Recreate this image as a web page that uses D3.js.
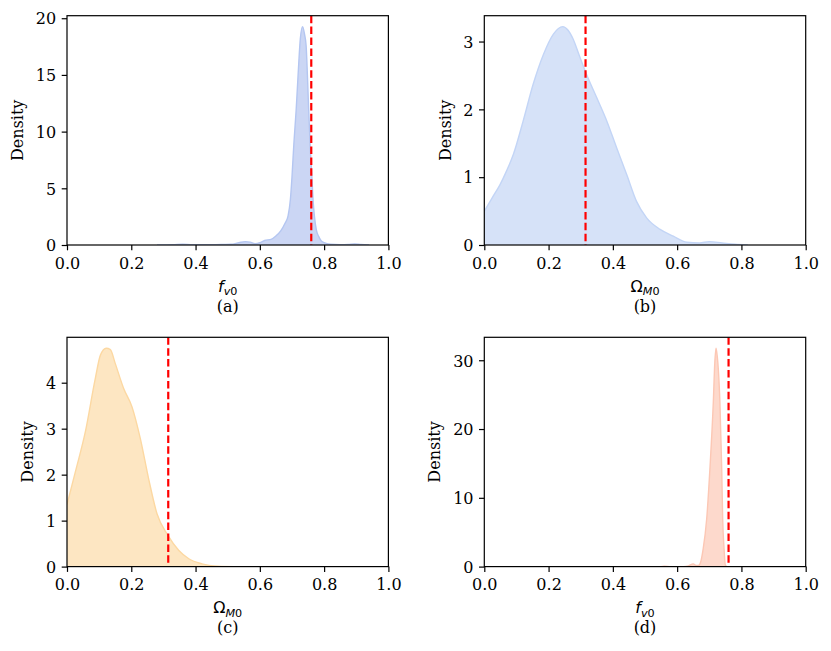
<!DOCTYPE html>
<html><head><meta charset="utf-8">
<script src="https://cdn.jsdelivr.net/npm/d3@7"></script>
<style>body{margin:0;background:#fff}svg{display:block}</style>
</head><body>
<svg id="chart" width="831" height="651"></svg>
<script>
// ---------- data ----------
const xTicks = [0, 0.2, 0.4, 0.6, 0.8, 1.0];
const xTickLabels = ["0.0", "0.2", "0.4", "0.6", "0.8", "1.0"];

const xA = [0.28,0.33,0.36,0.39,0.44,0.48,0.51,0.535,0.555,0.57,0.585,0.60,0.615,0.635,0.65,0.665,0.678,0.688,0.695,0.700,0.706,0.713,0.720,0.726,0.733,0.739,0.744,0.748,0.752,0.757,0.762,0.766,0.770,0.776,0.783,0.79,0.80,0.82,0.85,0.875,0.895,0.915,0.94];
const densityA = [0,0.02,0.07,0.02,0.02,0.05,0.06,0.2,0.3,0.25,0.12,0.2,0.4,0.5,0.8,1.25,1.9,2.6,4.0,6.0,9.0,11.9,15.5,18.2,19.26,18.6,17.6,15.0,11.9,8.5,6.0,3.8,2.5,1.3,0.76,0.4,0.2,0.06,0.03,0.05,0.1,0.04,0];
const yTicksA = [0, 5, 10, 15, 20];

const xB = [0.0,0.025,0.049,0.07,0.09,0.121,0.152,0.184,0.215,0.244,0.26,0.277,0.295,0.316,0.35,0.381,0.412,0.443,0.474,0.505,0.547,0.588,0.63,0.67,0.70,0.74,0.78,0.82];
const densityB = [0.50,0.70,0.89,1.10,1.33,1.83,2.37,2.81,3.11,3.22,3.17,3.03,2.80,2.54,2.17,1.83,1.43,1.04,0.64,0.40,0.23,0.13,0.04,0.03,0.05,0.03,0.01,0];
const yTicksB = [0, 1, 2, 3];

const xC = [0.0,0.026,0.057,0.088,0.104,0.122,0.135,0.150,0.176,0.202,0.228,0.254,0.280,0.314,0.348,0.379,0.42,0.47,0.52];
const densityC = [1.35,2.06,2.93,4.09,4.60,4.75,4.72,4.42,3.88,3.48,2.79,1.91,1.15,0.68,0.35,0.17,0.06,0.01,0];
const yTicksC = [0, 1, 2, 3, 4];

const xD = [0.55,0.56,0.58,0.62,0.635,0.650,0.660,0.668,0.673,0.681,0.692,0.702,0.7126,0.717,0.721,0.725,0.728,0.733,0.7387,0.7417,0.746,0.750,0.755];
const densityD = [0,0.05,0,0,0.1,0.4,0.15,0.2,0.63,2.58,6.95,14.25,23.96,29.5,31.75,30.5,28.8,24.0,14.25,6.95,2.58,0.2,0];
const yTicksD = [0, 10, 20, 30];

const truthFv0 = 0.76;
const truthOmega = 0.315;

const panelLetters = ["(a)", "(b)", "(c)", "(d)"];
const panelParams = ["fv0", "omega", "omega", "fv0"];

// ---------- layout / style ----------
const colLeft = [67, 484.3];
const rowTop = [15.7, 337.3];
const plotW = 321.4, plotH = 229.3;
const styles = [
  {fill: "#cbd6f4", stroke: "#b4c6f1"},
  {fill: "#d6e2f8", stroke: "#c3d5f6"},
  {fill: "#fde6c2", stroke: "#fcd8a2"},
  {fill: "#fdd9cc", stroke: "#fcc7b4"}
];
const FS = 16;

const panels = [
  {x: xA, y: densityA, yt: yTicksA, truth: truthFv0},
  {x: xB, y: densityB, yt: yTicksB, truth: truthOmega},
  {x: xC, y: densityC, yt: yTicksC, truth: truthOmega},
  {x: xD, y: densityD, yt: yTicksD, truth: truthFv0}
];

const svg = d3.select("#chart");

panels.forEach((p, i) => {
  const left = colLeft[i % 2], top = rowTop[Math.floor(i / 2)];
  const g = svg.append("g").attr("transform", `translate(${left},${top})`);
  const x = d3.scaleLinear().domain([0, 1]).range([0, plotW]);
  const y = d3.scaleLinear().domain([0, d3.max(p.y) * 1.05]).range([plotH, 0]);
  const pts = p.x.map((v, k) => [v, p.y[k]]);

  const clipId = "clip" + i;
  g.append("clipPath").attr("id", clipId).append("rect").attr("width", plotW).attr("height", plotH);
  const body = g.append("g").attr("clip-path", `url(#${clipId})`);

  body.append("path").datum(pts)
    .attr("d", d3.area().x(d => x(d[0])).y0(y(0)).y1(d => y(d[1])).curve(d3.curveMonotoneX))
    .attr("fill", styles[i].fill);
  body.append("path").datum(pts)
    .attr("d", d3.line().x(d => x(d[0])).y(d => y(d[1])).curve(d3.curveMonotoneX))
    .attr("fill", "none").attr("stroke", styles[i].stroke).attr("stroke-width", 1.4);

  body.append("line")
    .attr("x1", x(p.truth)).attr("x2", x(p.truth)).attr("y1", 0).attr("y2", plotH)
    .attr("stroke", "#ff0000").attr("stroke-width", 2.2).attr("stroke-dasharray", "7.5,3.4");

  // axes
  const xAxis = d3.axisBottom(x).tickValues(xTicks).tickFormat((d, k) => xTickLabels[k]).tickSize(5.3).tickPadding(5);
  const gx = g.append("g").attr("transform", `translate(0,${plotH})`).call(xAxis);
  const yAxis = d3.axisLeft(y).tickValues(p.yt).tickFormat(d3.format("d")).tickSize(5.3).tickPadding(5.5);
  const gy = g.append("g").call(yAxis);
  [gx, gy].forEach(a => {
    a.select(".domain").remove();
    a.selectAll(".tick line").attr("stroke", "#000").attr("stroke-width", 1.2);
    a.selectAll(".tick text").attr("fill", "#000").attr("font-family", "DejaVu Serif").attr("font-size", FS);
  });
  gx.selectAll(".tick text").attr("y", 12.2).attr("dy", "0.71em");
  gy.selectAll(".tick text").attr("dy", "0.36em");

  g.append("rect").attr("width", plotW).attr("height", plotH)
    .attr("fill", "none").attr("stroke", "#000").attr("stroke-width", 1.2);

  // y label
  let maxW = 0;
  gy.selectAll(".tick text").each(function () { maxW = Math.max(maxW, this.getBBox().width); });
  g.append("text").attr("transform", `translate(${-(maxW + 23.5)},${plotH / 2}) rotate(-90)`)
    .attr("text-anchor", "middle").attr("font-family", "DejaVu Serif").attr("font-size", FS)
    .attr("fill", "#000").text("Density");

  // x label (math style)
  const xl = g.append("text").attr("x", plotW / 2).attr("y", plotH + 46.6)
    .attr("text-anchor", "middle").attr("font-family", "DejaVu Sans").attr("font-size", FS).attr("fill", "#000");
  if (panelParams[i] === "fv0") {
    xl.append("tspan").attr("font-style", "italic").text("f");
    xl.append("tspan").attr("font-style", "italic").attr("font-size", FS * 0.7).attr("dy", 3.4).text("v");
    xl.append("tspan").attr("font-size", FS * 0.7).text("0");
  } else {
    xl.append("tspan").text("Ω");
    xl.append("tspan").attr("font-style", "italic").attr("font-size", FS * 0.7).attr("dy", 3.4).text("M");
    xl.append("tspan").attr("font-size", FS * 0.7).text("0");
  }

  g.append("text").attr("x", plotW / 2).attr("y", plotH + 66.6)
    .attr("text-anchor", "middle").attr("font-family", "DejaVu Serif").attr("font-size", FS)
    .attr("fill", "#000").text(panelLetters[i]);
});
</script>
</body></html>
